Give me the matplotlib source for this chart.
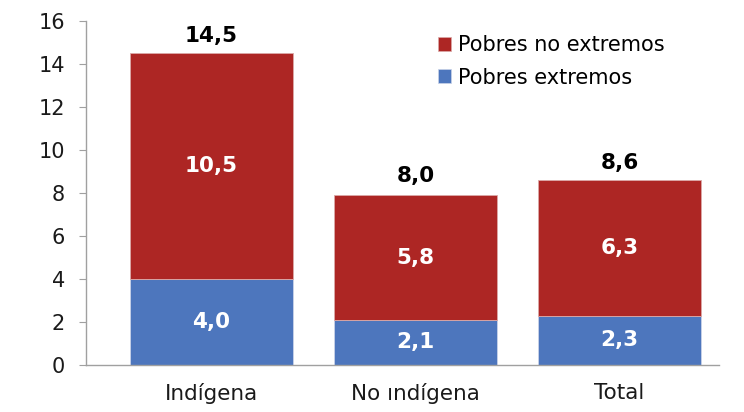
import numpy as np
import matplotlib.pyplot as plt
from matplotlib.patches import Patch

# Data
categories = ['Indígena', 'No ındígena', 'Total']
extremos = [4.0, 2.1, 2.3]
no_extremos = [10.5, 5.8, 6.3]
totales = [14.5, 8.0, 8.6]

red = '#AD2624'
blue = '#4D76BD'

plt.rcParams['font.family'] = ['DejaVu Sans']

fig = plt.figure(figsize=(7.44, 4.12), dpi=100)
ax = fig.add_axes([0.1156, 0.114, 0.851, 0.835])

x = np.arange(len(categories))
w = 0.8
ax.bar(x, extremos, w, color=blue, edgecolor='#c9d3e8', linewidth=0.6)
ax.bar(x, no_extremos, w, bottom=extremos, color=red, edgecolor='#dba9a8', linewidth=0.6)

# white labels inside segments, black totals on top
for i in range(len(categories)):
    ax.text(x[i], extremos[i] / 2, f'{extremos[i]:.1f}'.replace('.', ','),
            ha='center', va='center', color='white', fontsize=15.5, fontweight='bold')
    ax.text(x[i], extremos[i] + no_extremos[i] / 2, f'{no_extremos[i]:.1f}'.replace('.', ','),
            ha='center', va='center', color='white', fontsize=15.5, fontweight='bold')
    ax.annotate(f'{totales[i]:.1f}'.replace('.', ','), (x[i], totales[i]),
                xytext=(0, 5), textcoords='offset points',
                ha='center', va='bottom', color='black', fontsize=15.5, fontweight='bold')

ax.set_xlim(-0.615, 2.488)
ax.set_ylim(0, 16)
ax.set_yticks(range(0, 17, 2))
ax.set_xticks(x)
ax.set_xticklabels(categories)
ax.tick_params(axis='y', direction='out', length=5, color='#a0a0a0', labelsize=15, pad=10)
ax.tick_params(axis='x', length=0, labelsize=15.5, pad=13)
for lbl in ax.get_xticklabels() + ax.get_yticklabels():
    lbl.set_color('#1a1a1a')

for s in ['top', 'right']:
    ax.spines[s].set_visible(False)
for s in ['left', 'bottom']:
    ax.spines[s].set_color('#a0a0a0')
    ax.spines[s].set_linewidth(1)

handles = [Patch(facecolor=red, edgecolor='#dba9a8', linewidth=0.5),
           Patch(facecolor=blue, edgecolor='#c9d3e8', linewidth=0.5)]
ax.legend(handles, ['Pobres no extremos', 'Pobres extremos'],
          loc='upper left', bbox_to_anchor=(0.577, 0.935), bbox_transform=fig.transFigure,
          frameon=False, fontsize=15, handlelength=0.65, handleheight=0.65,
          handletextpad=0.35, labelspacing=0.6, borderaxespad=0)

fig.savefig('out.png', dpi=100)
